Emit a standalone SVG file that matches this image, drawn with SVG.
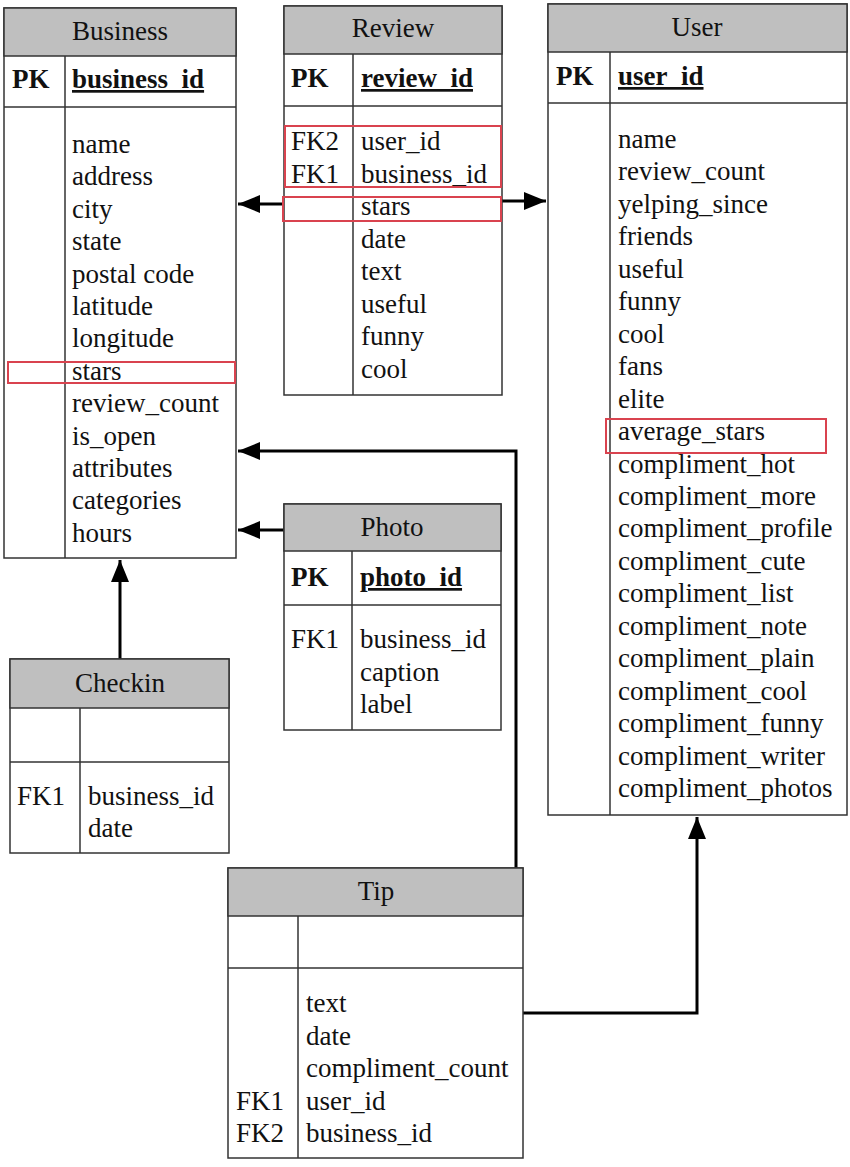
<svg xmlns="http://www.w3.org/2000/svg" width="850" height="1167" viewBox="0 0 850 1167">
<style>
text{font-family:"Liberation Serif","Times New Roman",serif;font-size:27px;fill:#111}
.t{text-anchor:middle}
.b{font-weight:bold}
.u{text-decoration:underline}
.box{fill:#fff;stroke:#333;stroke-width:1.5}
.hd{fill:#bfbfbf;stroke:#333;stroke-width:1.5}
.ln{stroke:#333;stroke-width:1.5}
.red{fill:none;stroke:#d9434f;stroke-width:2}
.con{fill:none;stroke:#000;stroke-width:3}
</style>
<defs>
<marker id="ah" markerUnits="userSpaceOnUse" markerWidth="24" markerHeight="20" refX="22" refY="9" orient="auto">
<path d="M0,0 L22,9 L0,18 Z" fill="#000"/>
</marker>
</defs>
<rect width="850" height="1167" fill="#fff"/>

<g id="connectors">
<line class="con" x1="284" y1="204" x2="238" y2="204" marker-end="url(#ah)"/>
<line class="con" x1="502" y1="201" x2="546" y2="201" marker-end="url(#ah)"/>
<line class="con" x1="120" y1="659" x2="120" y2="560" marker-end="url(#ah)"/>
<line class="con" x1="284" y1="530" x2="238" y2="530" marker-end="url(#ah)"/>
<polyline class="con" points="516,868 516,451 238,451" marker-end="url(#ah)"/>
<polyline class="con" points="523,1013 697,1013 697,817" marker-end="url(#ah)"/>
</g>

<g id="business">
<rect class="box" x="4" y="8" width="232" height="550"/>
<rect class="hd" x="4" y="8" width="232" height="48"/>
<line class="ln" x1="4" y1="107" x2="236" y2="107"/>
<line class="ln" x1="65" y1="56" x2="65" y2="558"/>
<text class="t" x="120" y="40">Business</text>
<text class="b" x="12" y="88">PK</text>
<text class="b u" x="72" y="88">business_id</text>
<text x="72" y="153">name</text>
<text x="72" y="185.4">address</text>
<text x="72" y="217.8">city</text>
<text x="72" y="250.2">state</text>
<text x="72" y="282.6">postal code</text>
<text x="72" y="315">latitude</text>
<text x="72" y="347.4">longitude</text>
<text x="72" y="379.8">stars</text>
<text x="72" y="412.2">review_count</text>
<text x="72" y="444.6">is_open</text>
<text x="72" y="477">attributes</text>
<text x="72" y="509.4">categories</text>
<text x="72" y="541.8">hours</text>
<rect class="red" x="8" y="362" width="227" height="21"/>
</g>

<g id="review">
<rect class="box" x="284" y="6" width="218" height="389"/>
<rect class="hd" x="284" y="6" width="218" height="48"/>
<line class="ln" x1="284" y1="106" x2="502" y2="106"/>
<line class="ln" x1="353" y1="54" x2="353" y2="395"/>
<text class="t" x="393" y="37">Review</text>
<text class="b" x="291" y="87">PK</text>
<text class="b u" x="361" y="87">review_id</text>
<text x="291" y="150">FK2</text>
<text x="291" y="182.5">FK1</text>
<text x="361" y="150">user_id</text>
<text x="361" y="182.5">business_id</text>
<text x="361" y="215">stars</text>
<text x="361" y="247.5">date</text>
<text x="361" y="280">text</text>
<text x="361" y="312.5">useful</text>
<text x="361" y="345">funny</text>
<text x="361" y="377.5">cool</text>
<rect class="red" x="285" y="126" width="216" height="61"/>
<rect class="red" x="283" y="197" width="218" height="24"/>
</g>

<g id="user">
<rect class="box" x="548" y="4" width="299" height="811"/>
<rect class="hd" x="548" y="4" width="299" height="48"/>
<line class="ln" x1="548" y1="103" x2="847" y2="103"/>
<line class="ln" x1="610" y1="52" x2="610" y2="815"/>
<text class="t" x="697" y="36">User</text>
<text class="b" x="556" y="85">PK</text>
<text class="b u" x="618" y="85">user_id</text>
<text x="618" y="148">name</text>
<text x="618" y="180.45">review_count</text>
<text x="618" y="212.9">yelping_since</text>
<text x="618" y="245.35">friends</text>
<text x="618" y="277.8">useful</text>
<text x="618" y="310.25">funny</text>
<text x="618" y="342.7">cool</text>
<text x="618" y="375.15">fans</text>
<text x="618" y="407.6">elite</text>
<text x="618" y="440.05">average_stars</text>
<text x="618" y="472.5">compliment_hot</text>
<text x="618" y="504.95">compliment_more</text>
<text x="618" y="537.4">compliment_profile</text>
<text x="618" y="569.85">compliment_cute</text>
<text x="618" y="602.3">compliment_list</text>
<text x="618" y="634.75">compliment_note</text>
<text x="618" y="667.2">compliment_plain</text>
<text x="618" y="699.65">compliment_cool</text>
<text x="618" y="732.1">compliment_funny</text>
<text x="618" y="764.55">compliment_writer</text>
<text x="618" y="797">compliment_photos</text>
<rect class="red" x="606" y="419" width="220" height="34"/>
</g>

<g id="photo">
<rect class="box" x="284" y="504" width="217" height="226"/>
<rect class="hd" x="284" y="504" width="217" height="47"/>
<line class="ln" x1="284" y1="605" x2="501" y2="605"/>
<line class="ln" x1="352" y1="551" x2="352" y2="730"/>
<text class="t" x="392" y="536">Photo</text>
<text class="b" x="291" y="586">PK</text>
<text class="b u" x="360" y="586">photo_id</text>
<text x="291" y="648">FK1</text>
<text x="360" y="648">business_id</text>
<text x="360" y="681">caption</text>
<text x="360" y="713">label</text>
</g>

<g id="checkin">
<rect class="box" x="10" y="659" width="219" height="194"/>
<rect class="hd" x="10" y="659" width="219" height="49"/>
<line class="ln" x1="10" y1="762" x2="229" y2="762"/>
<line class="ln" x1="80" y1="708" x2="80" y2="853"/>
<text class="t" x="120" y="692">Checkin</text>
<text x="17" y="805">FK1</text>
<text x="88" y="805">business_id</text>
<text x="88" y="837">date</text>
</g>

<g id="tip">
<rect class="box" x="228" y="868" width="295" height="290"/>
<rect class="hd" x="228" y="868" width="295" height="48"/>
<line class="ln" x1="228" y1="968" x2="523" y2="968"/>
<line class="ln" x1="298" y1="916" x2="298" y2="1158"/>
<text class="t" x="376" y="900">Tip</text>
<text x="306" y="1012">text</text>
<text x="306" y="1044.5">date</text>
<text x="306" y="1077">compliment_count</text>
<text x="236" y="1109.5">FK1</text>
<text x="306" y="1109.5">user_id</text>
<text x="236" y="1142">FK2</text>
<text x="306" y="1142">business_id</text>
</g>
</svg>
